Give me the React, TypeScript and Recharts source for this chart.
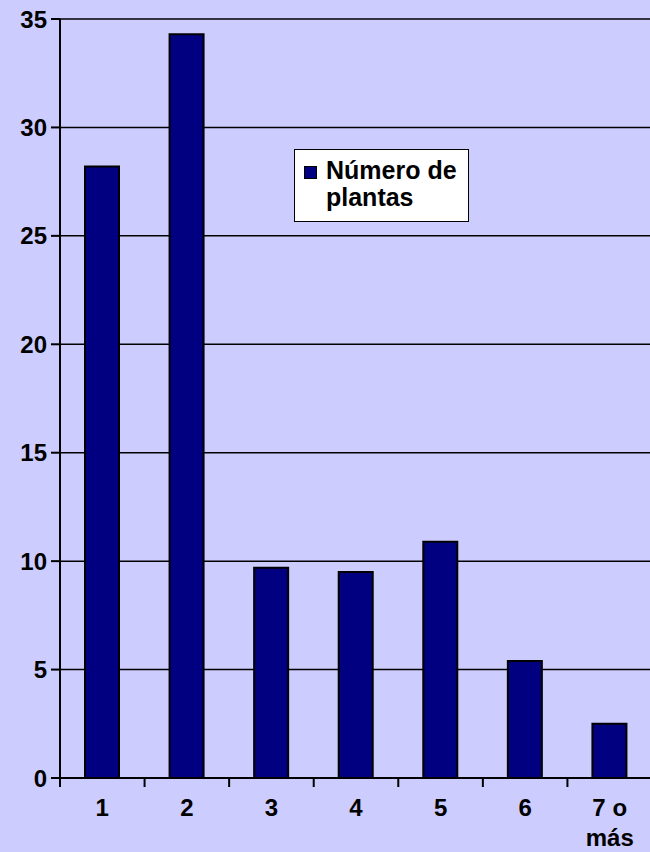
import { BarChart, Bar, XAxis, YAxis, CartesianGrid, Legend } from "recharts";

const CATEGORIES = ["1", "2", "3", "4", "5", "6", "7 o más"];
const PLANTAS = [28.2, 34.3, 9.7, 9.5, 10.9, 5.4, 2.5];
const Y_TICKS = [0, 5, 10, 15, 20, 25, 30, 35];
const SERIES_NAME = "Número de plantas";

const data = CATEGORIES.map((c, i) => ({ cat: c, value: PLANTAS[i] }));

const CHART_W = 660;
const CHART_H = 852;
const Y_AXIS_W = 60;
const MARGIN = { top: 19, right: 8, bottom: 0, left: 0 };
const BAND = (CHART_W - Y_AXIS_W - MARGIN.right) / CATEGORIES.length;
const FONT = "'Liberation Sans', Arial, sans-serif";

function XTick(props: any) {
  const { x, y, payload, index } = props;
  const label: string = payload.value;
  const sp = label.lastIndexOf(" ");
  const lines = label.length > 3 && sp > 0 ? [label.slice(0, sp), label.slice(sp + 1)] : [label];
  return (
    <g>
      <line x1={x - BAND / 2} x2={x - BAND / 2} y1={y} y2={y + 9} stroke="#000" strokeWidth={2} />
      {index === CATEGORIES.length - 1 && (
        <line x1={x + BAND / 2} x2={x + BAND / 2} y1={y} y2={y + 9} stroke="#000" strokeWidth={2} />
      )}
      <text
        x={x}
        y={y + 38}
        textAnchor="middle"
        fontFamily={FONT}
        fontWeight="bold"
        fontSize={24}
        fill="#000"
      >
        {lines.map((l, i) => (
          <tspan key={i} x={x} dy={i === 0 ? 0 : 30}>
            {l}
          </tspan>
        ))}
      </text>
    </g>
  );
}

function LegendBox() {
  return (
    <div
      style={{
        width: 175,
        height: 73,
        boxSizing: "border-box",
        background: "#fff",
        border: "1.5px solid #000",
        position: "relative",
        fontFamily: FONT,
        fontWeight: "bold",
        fontSize: 25,
        color: "#000",
      }}
    >
      <div
        style={{
          position: "absolute",
          left: 9,
          top: 16,
          width: 13,
          height: 13,
          boxSizing: "border-box",
          background: "#000080",
          border: "1.5px solid #000",
        }}
      />
      <div style={{ position: "absolute", left: 31, top: 7, lineHeight: "27px", width: 140 }}>
        Número de
        <br />
        plantas
      </div>
    </div>
  );
}

export default function App() {
  return (
    <div
      style={{
        position: "absolute",
        left: 0,
        top: 0,
        width: 650,
        height: 852,
        background: "#CCCCFF",
        overflow: "hidden",
      }}
    >
      <BarChart width={CHART_W} height={CHART_H} data={data} margin={MARGIN} barSize={34}>
        <CartesianGrid vertical={false} stroke="#000" strokeWidth={1.5} />
        <XAxis
          dataKey="cat"
          height={74}
          axisLine={{ stroke: "#000", strokeWidth: 2 }}
          tickLine={false}
          tickSize={0}
          tickMargin={0}
          interval={0}
          tick={<XTick />}
        />
        <YAxis
          width={Y_AXIS_W}
          domain={[0, 35]}
          ticks={Y_TICKS}
          interval={0}
          axisLine={{ stroke: "#000", strokeWidth: 2 }}
          tickLine={{ stroke: "#000", strokeWidth: 2 }}
          tickSize={9}
          tickMargin={4}
          tick={{ fill: "#000", fontFamily: FONT, fontWeight: "bold", fontSize: 24 }}
        />
        <Legend
          layout="vertical"
          align="center"
          verticalAlign="middle"
          wrapperStyle={{ left: 294, top: 149, width: 175, height: 73 }}
          content={<LegendBox />}
        />
        <Bar
          dataKey="value"
          name={SERIES_NAME}
          fill="#000080"
          stroke="#000"
          strokeWidth={2}
          isAnimationActive={false}
        />
      </BarChart>
    </div>
  );
}
